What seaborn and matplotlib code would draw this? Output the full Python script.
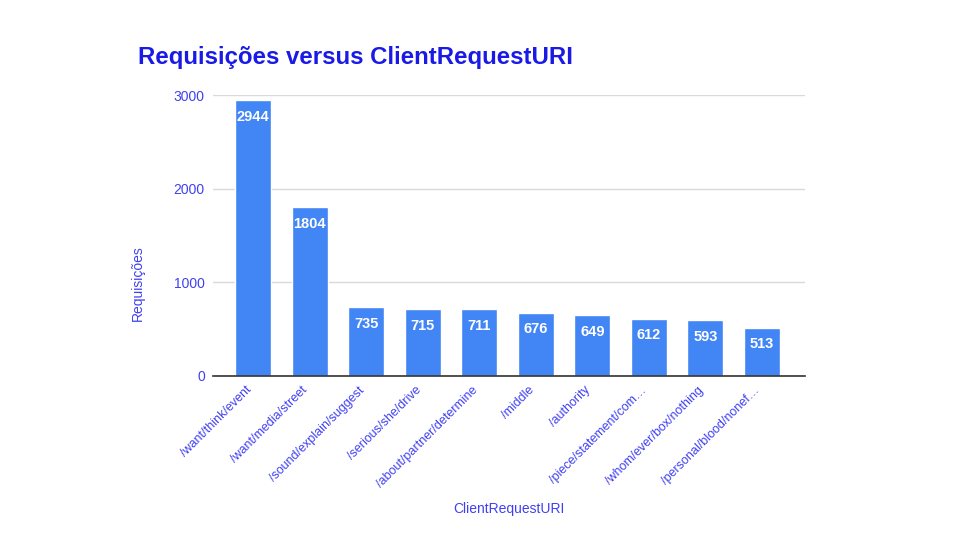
import matplotlib
matplotlib.use("Agg")
import matplotlib.pyplot as plt
import matplotlib.transforms as mtransforms
import seaborn as sns
import pandas as pd

uris = ["/want/think/event", "/want/media/street", "/sound/explain/suggest",
        "/serious/she/drive", "/about/partner/determine", "/middle",
        "/authority", "/piece/statement/com…", "/whom/ever/box/nothing",
        "/personal/blood/nonef…"]
requests = [2944, 1804, 735, 715, 711, 676, 649, 612, 593, 513]
yticks = [0, 1000, 2000, 3000]

bar_color = "#4285F4"
text_color = "#4040F2"

sns.set_theme(style="white")
plt.rcParams["font.family"] = ["Liberation Sans", "DejaVu Sans"]

df = pd.DataFrame({"uri": uris, "req": requests})

fig = plt.figure(figsize=(9.6, 5.4), dpi=100)
ax = fig.add_axes([0.222, 0.304, 0.617, 0.52])

sns.barplot(data=df, x="uri", y="req", color=bar_color, width=0.64,
            saturation=1, ax=ax, zorder=3)

ax.set_ylim(0, 3000)
ax.set_yticks(yticks)
ax.set_yticklabels([str(t) for t in yticks], color=text_color, fontsize=10)
ax.yaxis.grid(True, color="#d9d9d9", linewidth=1, zorder=0)
ax.set_xlim(-0.71, len(uris) - 0.5 + 0.27)
ax.tick_params(axis="both", length=0, pad=6)
ax.set_xticks(range(len(uris)))
ax.set_xticklabels(uris, rotation=45, ha="right", rotation_mode="anchor",
                   color=text_color, fontsize=9)
shift = mtransforms.ScaledTranslation(-8 / 100, 0, fig.dpi_scale_trans)
for lbl in ax.get_xticklabels():
    lbl.set_transform(lbl.get_transform() + shift)

for s in ["top", "right", "left"]:
    ax.spines[s].set_visible(False)
ax.spines["bottom"].set_color("#333333")
ax.spines["bottom"].set_linewidth(1.2)
ax.spines["bottom"].set_zorder(4)

for container in ax.containers:
    ax.bar_label(container, labels=[str(v) for v in requests], padding=-17,
                 color="white", fontsize=10.5, fontweight="bold")

ax.set_xlabel("ClientRequestURI", color=text_color, fontsize=10)
ax.xaxis.set_label_coords(0.5, -0.448)
ax.set_ylabel("Requisições", color=text_color, fontsize=10)
ax.yaxis.set_label_coords(-0.115, 0.33)

fig.text(0.144, 0.893, "Requisições versus ClientRequestURI", color="#1A1AE6",
         fontsize=17.3, fontweight="bold", ha="left", va="center")

fig.savefig("out.png", dpi=100, facecolor="white")
